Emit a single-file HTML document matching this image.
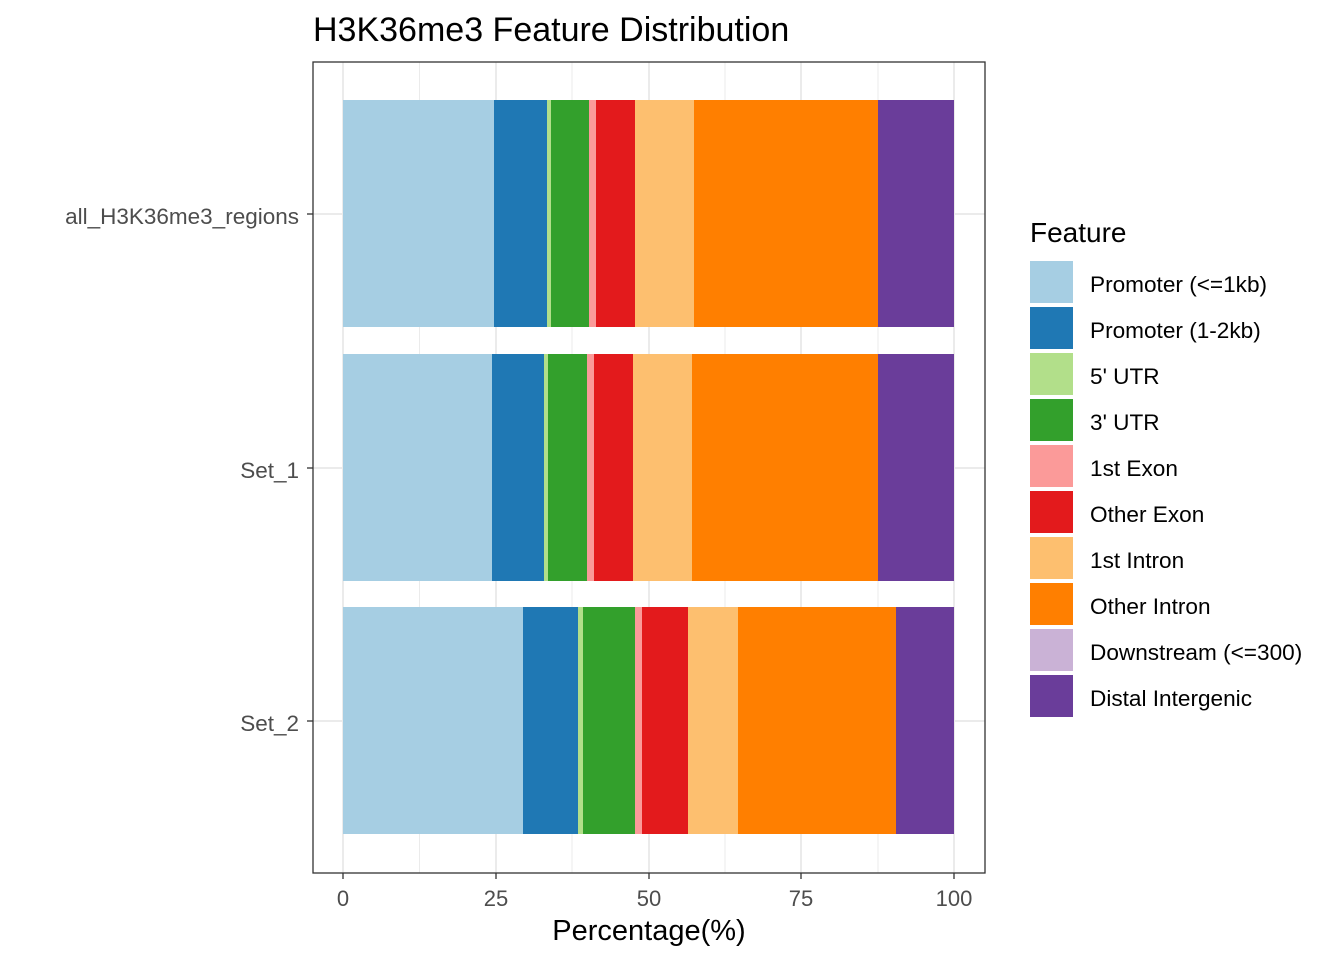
<!DOCTYPE html>
<html><head><style>body{margin:0;background:#fff}</style></head><body>
<svg width="1344" height="960" xmlns="http://www.w3.org/2000/svg" font-family="Liberation Sans, Arial, sans-serif">
<rect width="1344" height="960" fill="#fff"/>
<g stroke="#ebebeb">
<g stroke-width="1"><line x1="419.5" y1="62" x2="419.5" y2="873"/><line x1="572" y1="62" x2="572" y2="873"/><line x1="725" y1="62" x2="725" y2="873"/><line x1="878" y1="62" x2="878" y2="873"/></g>
<g stroke-width="2"><line x1="343" y1="62" x2="343" y2="873"/><line x1="496" y1="62" x2="496" y2="873"/><line x1="649" y1="62" x2="649" y2="873"/><line x1="801" y1="62" x2="801" y2="873"/><line x1="954" y1="62" x2="954" y2="873"/>
<line x1="313" y1="214" x2="985" y2="214"/><line x1="313" y1="468" x2="985" y2="468"/><line x1="313" y1="721" x2="985" y2="721"/></g>
</g>
<g>
<rect x="343" y="100" width="151" height="227" fill="#a6cee3"/>
<rect x="494" y="100" width="53" height="227" fill="#1f78b4"/>
<rect x="547" y="100" width="4" height="227" fill="#b2df8a"/>
<rect x="551" y="100" width="38" height="227" fill="#33a02c"/>
<rect x="589" y="100" width="7" height="227" fill="#fb9a99"/>
<rect x="596" y="100" width="39" height="227" fill="#e31a1c"/>
<rect x="635" y="100" width="59" height="227" fill="#fdbf6f"/>
<rect x="694" y="100" width="184" height="227" fill="#ff7f00"/>
<rect x="878" y="100" width="76" height="227" fill="#6a3d9a"/>
</g>
<g>
<rect x="343" y="354" width="149" height="227" fill="#a6cee3"/>
<rect x="492" y="354" width="52" height="227" fill="#1f78b4"/>
<rect x="544" y="354" width="4" height="227" fill="#b2df8a"/>
<rect x="548" y="354" width="39" height="227" fill="#33a02c"/>
<rect x="587" y="354" width="7" height="227" fill="#fb9a99"/>
<rect x="594" y="354" width="39" height="227" fill="#e31a1c"/>
<rect x="633" y="354" width="59" height="227" fill="#fdbf6f"/>
<rect x="692" y="354" width="186" height="227" fill="#ff7f00"/>
<rect x="878" y="354" width="76" height="227" fill="#6a3d9a"/>
</g>
<g>
<rect x="343" y="607" width="180" height="227" fill="#a6cee3"/>
<rect x="523" y="607" width="55" height="227" fill="#1f78b4"/>
<rect x="578" y="607" width="5" height="227" fill="#b2df8a"/>
<rect x="583" y="607" width="52" height="227" fill="#33a02c"/>
<rect x="635" y="607" width="7" height="227" fill="#fb9a99"/>
<rect x="642" y="607" width="46" height="227" fill="#e31a1c"/>
<rect x="688" y="607" width="50" height="227" fill="#fdbf6f"/>
<rect x="738" y="607" width="158" height="227" fill="#ff7f00"/>
<rect x="896" y="607" width="58" height="227" fill="#6a3d9a"/>
</g>
<rect x="313" y="62" width="672" height="811" fill="none" stroke="#333" stroke-width="1.3"/>
<g stroke="#333" stroke-width="1.3">
<line x1="307" y1="214" x2="313" y2="214"/><line x1="307" y1="468" x2="313" y2="468"/><line x1="307" y1="721" x2="313" y2="721"/>
<line x1="343" y1="873" x2="343" y2="879"/><line x1="496" y1="873" x2="496" y2="879"/><line x1="649" y1="873" x2="649" y2="879"/><line x1="801" y1="873" x2="801" y2="879"/><line x1="954" y1="873" x2="954" y2="879"/>
</g>
<g fill="#4d4d4d" font-size="22.5" text-anchor="end">
<text x="299" y="224">all_H3K36me3_regions</text><text x="299" y="478">Set_1</text><text x="299" y="731">Set_2</text>
</g>
<g fill="#4d4d4d" font-size="22" text-anchor="middle">
<text x="343" y="906">0</text><text x="496" y="906">25</text><text x="649" y="906">50</text><text x="801" y="906">75</text><text x="954" y="906">100</text>
</g>
<text x="649" y="940" font-size="29" text-anchor="middle" fill="#000">Percentage(%)</text>
<text x="313" y="41" font-size="34" fill="#000">H3K36me3 Feature Distribution</text>
<text x="1030" y="242" font-size="28" fill="#000">Feature</text>
<g font-size="22.6" fill="#000">
<rect x="1030" y="261" width="43" height="42" fill="#a6cee3"/><text x="1090" y="292">Promoter (&lt;=1kb)</text>
<rect x="1030" y="307" width="43" height="42" fill="#1f78b4"/><text x="1090" y="338">Promoter (1-2kb)</text>
<rect x="1030" y="353" width="43" height="42" fill="#b2df8a"/><text x="1090" y="384">5' UTR</text>
<rect x="1030" y="399" width="43" height="42" fill="#33a02c"/><text x="1090" y="430">3' UTR</text>
<rect x="1030" y="445" width="43" height="42" fill="#fb9a99"/><text x="1090" y="476">1st Exon</text>
<rect x="1030" y="491" width="43" height="42" fill="#e31a1c"/><text x="1090" y="522">Other Exon</text>
<rect x="1030" y="537" width="43" height="42" fill="#fdbf6f"/><text x="1090" y="568">1st Intron</text>
<rect x="1030" y="583" width="43" height="42" fill="#ff7f00"/><text x="1090" y="614">Other Intron</text>
<rect x="1030" y="629" width="43" height="42" fill="#cab2d6"/><text x="1090" y="660">Downstream (&lt;=300)</text>
<rect x="1030" y="675" width="43" height="42" fill="#6a3d9a"/><text x="1090" y="706">Distal Intergenic</text>
</g>
</svg>
</body></html>
